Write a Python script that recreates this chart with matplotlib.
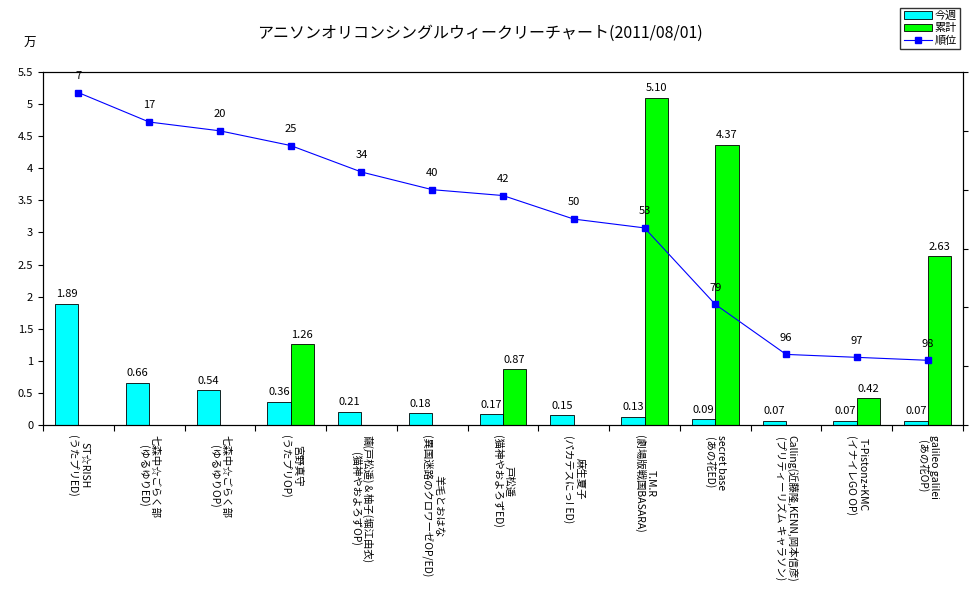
import matplotlib
matplotlib.use("Agg")
import matplotlib.pyplot as plt
import numpy as np

plt.rcParams['font.family'] = ['Noto Sans CJK JP', 'DejaVu Sans']

names = ["ST☆RISH", "七森中☆ごらく部", "七森中☆ごらく部", "宮野真守",
         "繭(戸松遥)＆柚子(堀江由衣)", "羊毛とおはな", "戸松遥", "麻生夏子",
         "T.M.R", "secret base", "Calling(近藤隆,KENN,岡本信彦)",
         "T-Pistonz+KMC", "galileo galilei"]
subs = ["(うたプリED)", "(ゆるゆりED)", "(ゆるゆりOP)", "(うたプリOP)",
        "(猫神やおよろずOP)", "(異国迷路のクロワーゼOP/ED)", "(猫神やおよろずED)",
        "(パカテスにっ! ED)", "(劇場版戦国BASARA)", "(あの花ED)",
        "(プリティーリズム キャラソン)", "(イナイレGO OP)", "(あの花OP)"]
weekly = [1.89, 0.66, 0.54, 0.36, 0.21, 0.18, 0.17, 0.15, 0.13, 0.09, 0.07, 0.07, 0.07]
total = [None, None, None, 1.26, None, None, 0.87, None, 5.10, 4.37, None, 0.42, 2.63]
rank = [7, 17, 20, 25, 34, 40, 42, 50, 53, 79, 96, 97, 98]

fig = plt.figure(figsize=(9.70, 6.03), dpi=100)
ax = fig.add_axes([43/970, 1-425/603, 920/970, 353/603])
x = np.arange(len(names))
w = 0.33
ax.bar(x - w/2, weekly, w, color='#00FFFF', edgecolor='black', linewidth=0.6, label='今週')
tv = [np.nan if v is None else v for v in total]
ax.bar(x + w/2, tv, w, color='#00FF00', edgecolor='black', linewidth=0.6, label='累計')
for i, v in enumerate(weekly):
    ax.text(x[i] - w/2, v + 0.07, f"{v:.2f}", ha='center', va='bottom', fontsize=8)
for i, v in enumerate(total):
    if v is not None:
        ax.text(x[i] + w/2, v + 0.07, f"{v:.2f}", ha='center', va='bottom', fontsize=8)
ax.set_xlim(-0.5, len(names) - 0.5)
ax.set_ylim(0, 5.5)
ax.set_yticks(np.arange(0, 5.51, 0.5))
ax.set_yticklabels([f"{t:g}" for t in np.arange(0, 5.51, 0.5)], fontsize=8)
ax.set_xticks(np.arange(-0.5, len(names), 1))
ax.set_xticklabels([])
ax.tick_params(axis='x', length=4)
for i in x:
    ax.text(i, -0.15, f"{names[i]}\n{subs[i]}", rotation=-90, ha='center', va='top',
            multialignment='center', fontsize=7.5, linespacing=1.1)

ax2 = ax.twinx()
ln, = ax2.plot(x, rank, color='#0000FF', marker='s', markersize=4, linewidth=0.8, label='順位')
ax2.set_ylim(120, 0)
ax2.set_yticks(np.arange(0, 121, 20))
ax2.set_yticklabels([])
for i, r in enumerate(rank):
    ax2.text(x[i], r - 4, str(r), ha='center', va='bottom', fontsize=8)

fig.text(480/970, 1-33/603, "アニソンオリコンシングルウィークリーチャート(2011/08/01)", ha='center', va='center', fontsize=11.5)
fig.text(30/970, 1-43/603, "万", ha='center', va='center', fontsize=9)

h1, l1 = ax.get_legend_handles_labels()
leg = fig.legend(h1 + [ln], l1 + ['順位'], loc='upper right', bbox_to_anchor=(966/970, 1-2/603),
                 fontsize=8, frameon=True, fancybox=False, edgecolor='black',
                 borderpad=0.3, labelspacing=0.2, handlelength=2.5, handletextpad=0.3)
fig.savefig("out.png", dpi=100)
